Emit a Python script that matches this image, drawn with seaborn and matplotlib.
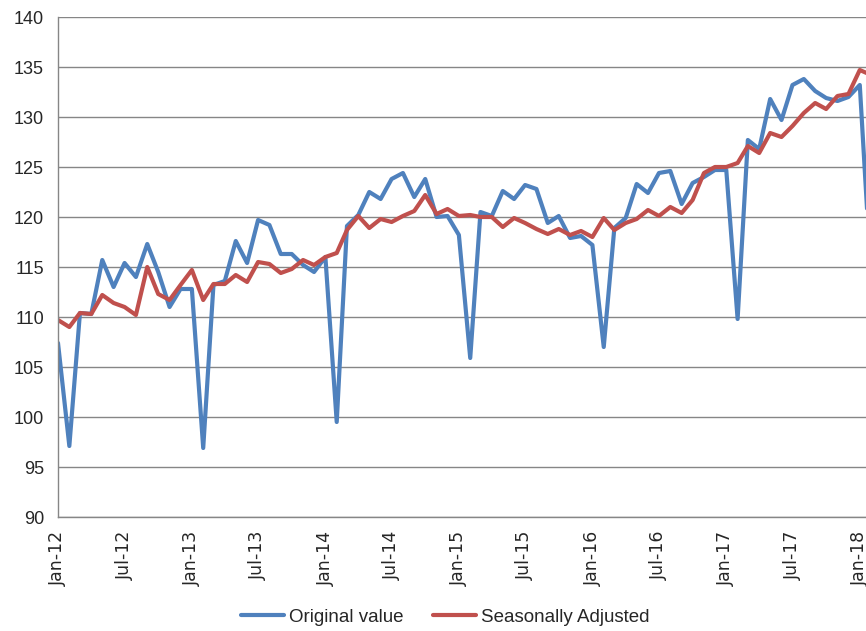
import numpy as np
import pandas as pd
import matplotlib
matplotlib.use("Agg")
import matplotlib.pyplot as plt
import matplotlib.dates as mdates
import seaborn as sns

# 월별 지수 (Jan-12 ~ Feb-18)
months = pd.date_range("2012-01-01", "2018-02-01", freq="MS")

original = [
    107.4, 97.1, 110.4, 110.3, 115.7, 113.0, 115.4, 114.0, 117.3, 114.5, 111.0, 112.8,
    112.8, 96.9, 113.2, 113.6, 117.6, 115.4, 119.7, 119.2, 116.3, 116.3, 115.2, 114.5,
    116.0, 99.5, 119.1, 120.2, 122.5, 121.8, 123.8, 124.4, 122.0, 123.8, 120.0, 120.1,
    118.2, 105.9, 120.5, 120.1, 122.6, 121.8, 123.2, 122.8, 119.4, 120.1, 117.9, 118.1,
    117.2, 107.0, 118.9, 119.9, 123.3, 122.4, 124.4, 124.6, 121.3, 123.4, 124.0, 124.7,
    124.7, 109.8, 127.7, 126.8, 131.8, 129.7, 133.2, 133.8, 132.6, 131.9, 131.6, 132.0,
    133.2, 113.8,
]
seasonal = [
    109.7, 109.0, 110.4, 110.3, 112.2, 111.4, 111.0, 110.2, 115.0, 112.3, 111.7, 113.2,
    114.7, 111.7, 113.3, 113.3, 114.2, 113.5, 115.5, 115.3, 114.4, 114.8, 115.7, 115.2,
    116.0, 116.4, 118.7, 120.1, 118.9, 119.8, 119.5, 120.1, 120.6, 122.2, 120.3, 120.8,
    120.1, 120.2, 120.0, 120.0, 119.0, 119.9, 119.4, 118.8, 118.3, 118.8, 118.2, 118.6,
    118.0, 119.9, 118.7, 119.4, 119.8, 120.7, 120.1, 121.0, 120.4, 121.7, 124.4, 125.0,
    125.0, 125.4, 127.1, 126.4, 128.4, 128.0, 129.1, 130.4, 131.4, 130.8, 132.1, 132.3,
    134.7, 134.2,
]

series_names = ["Original value", "Seasonally Adjusted"]
colors = ["#4F81BD", "#C0504D"]

df = pd.DataFrame({"month": months, series_names[0]: original, series_names[1]: seasonal})
long_df = df.melt(id_vars="month", var_name="series", value_name="value")

sns.set_style("white")
plt.rcParams["font.family"] = ["Liberation Sans", "DejaVu Sans"]

fig = plt.figure(figsize=(8.66, 6.31), dpi=100)
ax = fig.add_axes([58 / 866, 1 - 517 / 631, 1 - 58 / 866, (517 - 17) / 631])

sns.lineplot(data=long_df, x="month", y="value", hue="series", palette=colors,
             linewidth=3.0, ax=ax, legend=True)

# 축 설정
ax.set_ylim(90, 140)
ax.set_yticks(np.arange(90, 141, 5))
ax.set_xlim(pd.Timestamp("2012-01-01"), pd.Timestamp("2018-01-18"))
ax.xaxis.set_major_locator(mdates.MonthLocator(bymonth=[1, 7]))
ax.xaxis.set_minor_locator(mdates.MonthLocator())
ax.xaxis.set_major_formatter(mdates.DateFormatter("%b-%y"))
ax.set_xlabel("")
ax.set_ylabel("")

ax.grid(axis="y", color="#868686", linewidth=1.0)
ax.set_axisbelow(True)
for side in ["top", "right"]:
    ax.spines[side].set_visible(False)
for side in ["left", "bottom"]:
    ax.spines[side].set_color("#868686")
    ax.spines[side].set_linewidth(1.0)

ax.tick_params(axis="y", which="major", direction="out", length=6, color="#868686",
               labelsize=13, pad=4)
ax.tick_params(axis="x", which="major", direction="inout", length=12, color="#868686",
               labelsize=12.5, pad=4)
ax.tick_params(axis="x", which="minor", direction="out", length=5, color="#868686")
for lbl in ax.get_xticklabels():
    lbl.set_rotation(90)
    lbl.set_fontfamily("DejaVu Sans")

# 범례
handles, labels = ax.get_legend_handles_labels()
ax.get_legend().remove()
fig.legend(handles, labels, loc="center", bbox_to_anchor=(0.514, 0.022), ncol=2,
           frameon=False, fontsize=13.5, handlelength=2.3, handletextpad=0.25,
           columnspacing=1.6)

fig.savefig("out.png", dpi=100)
